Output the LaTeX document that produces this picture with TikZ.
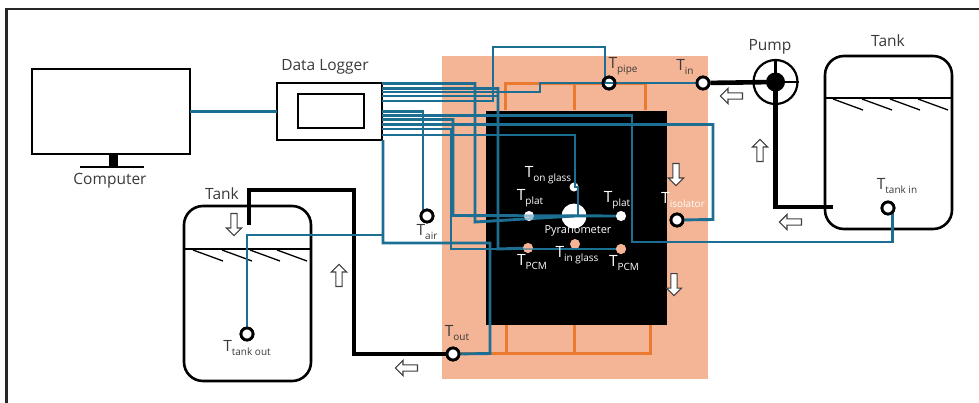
\documentclass[tikz,border=0pt]{standalone}
\usepackage{fontspec}
\setmainfont{Open Sans}
\usetikzlibrary{shapes.arrows}
\definecolor{salmon}{HTML}{F4B496}
\definecolor{orangeline}{HTML}{E97A30}
\definecolor{wire}{HTML}{1C6E92}
\definecolor{txt}{HTML}{3A3A3A}
\newcommand{\Tsub}[1]{{\fontsize{15.5}{16}\selectfont T}\raisebox{-.5ex}{\fontsize{10}{11}\selectfont #1}}
\tikzset{
  box/.style={draw=black,line width=2.6pt,fill=white,inner sep=0pt,outer sep=0pt},
  wireline/.style={draw=wire,line width=2.9pt,line join=miter},
  pipe/.style={draw=black,line width=4.6pt,line join=miter},
  plumb/.style={draw=orangeline,line width=3pt},
  sensor/.style={circle,draw=black,fill=white,line width=2.8pt,minimum size=12pt,inner sep=0pt},
  dotw/.style={circle,fill=white,minimum size=10pt,inner sep=0pt},
  doto/.style={circle,fill=salmon,minimum size=10pt,inner sep=0pt},
  lab/.style={text=txt,font=\fontsize{15.5}{17}\selectfont,inner sep=0pt},
  labw/.style={text=white,font=\fontsize{14}{16}\selectfont,inner sep=0pt},
  flow/.style={single arrow,draw=black!75,fill=white,line width=1.1pt,minimum width=15pt,minimum height=22pt,single arrow head extend=2.5pt,single arrow tip angle=90,inner sep=1.2pt},
  tankline/.style={draw=black,line width=2.6pt,rounded corners=19pt}
}
\begin{document}
\begin{tikzpicture}[x=1pt,y=-1pt]
\useasboundingbox (0,0) rectangle (979,402);
\clip (0,0) rectangle (979,402);
% frame
\draw[black!85,line width=2.4pt] (6.5,403) -- (6.5,9) -- (980,9);
% collector
\fill[salmon] (442,56) rectangle (708,379);
\draw[plumb] (505,110) -- (505,83) -- (645,83) -- (645,110);
\draw[plumb] (574,83) -- (574,110);
\draw[plumb] (506,325) -- (506,353) -- (650,353) -- (650,325);
\draw[plumb] (574,325) -- (574,353);
\draw[plumb] (453,353) -- (506,353);
\node[fill=black,minimum width=181pt,minimum height=214.5pt,inner sep=0pt] (panel) at (576.5,218) {};
% computer
\node[box,minimum width=158pt,minimum height=85pt] (screen) at (111,111.5) {};
\fill[black] (109,155) rectangle (117.5,166);
\draw[black,line width=2.6pt] (80,167) -- (144,167);
\node[lab] (computer) at (110,180.5) {Computer};
% logger
\node[box,minimum width=105pt,minimum height=57pt] (logger) at (329.5,111.5) {};
\node[box,minimum width=66pt,minimum height=34pt] (loggerscreen) at (331,111) {};
\node[lab] (loggerlabel) at (325,67) {Data Logger};
% tanks
\draw[tankline] (825,229) rectangle (952,56);
\node[lab] (tankrlabel) at (888,41) {Tank};
\draw[black,line width=2.2pt] (825,98) -- (952,98);
\foreach \a in {833,862,890,918} \draw[black,line width=1.3pt] (\a,99) -- ++(30,11);
\draw[tankline] (184,381) rectangle (311,206);
\node[lab] (tankllabel) at (222,194) {Tank};
\draw[black,line width=2.2pt] (184,249) -- (311,249);
\foreach \a in {193,222,250,277} \draw[black,line width=1.3pt] (\a,250) -- ++(30,11);
% sensors
\node[sensor] (tin) at (703,83) {};
\node[sensor] (tpipe) at (609,83) {};
\node[sensor] (tout) at (453,354) {};
\node[sensor] (tair) at (427,216) {};
\node[sensor] (tiso) at (677,220) {};
\node[sensor] (ttankin) at (888,208) {};
\node[sensor] (ttankout) at (247,334) {};
\node[dotw] (tplatl) at (529,216) {};
\node[dotw] (tplatr) at (621,216) {};
\node[dotw,minimum size=9pt] (tonglass) at (574,187) {};
\node[circle,fill=white,minimum size=25pt,inner sep=0pt] (pyr) at (574,216) {};
\node[doto] (tpcml) at (528,248) {};
\node[doto] (tpcmr) at (621,249) {};
\node[doto] (tinglass) at (575,244) {};
% pump
\node[circle,draw=black,fill=white,line width=2.2pt,minimum size=44pt,inner sep=0pt] (pump) at (775.5,82) {};
% pipes
\draw[pipe] (tin) -- (pump.center);
\coordinate (inright) at (833,207);
\draw[pipe] (pump.center) -- (775.5,207) -- (inright);
\coordinate (outtop) at (249,225);
\draw[pipe] (outtop) -- (249,190) -- (354,190) -- (354,354) -- (tout);
\node[circle,fill=black,minimum size=19pt,inner sep=0pt] (pumpcore) at (775.5,82) {};
\draw[black,line width=2.2pt] (pump.north) -- (pump.south) (pump.west) -- (pump.east);
% wires
\coordinate (L1) at (382,83.5);
\coordinate (L2) at (382,88.5);
\coordinate (L3) at (382,92);
\coordinate (L4) at (382,96);
\coordinate (L5) at (382,101);
\coordinate (L6) at (382,111.5);
\coordinate (L7) at (382,115.5);
\coordinate (L8) at (382,119.5);
\coordinate (L9) at (382,124.5);
\coordinate (L10) at (382,129);
\coordinate (L11) at (382,135);
\coordinate (Lb) at (383,140);
\draw[wireline] (screen.east) -- (logger.west);
\draw[wireline] (L1) -- (475,83.5) -- (475,222) -- (pyr.center);
\draw[wireline] (L2) -- (498,88.5) -- (498,249) -- (tpcml);
\draw[wireline] (L3) -- (540,92) -- (540,83) -- (tin);
\draw[wireline] (L4) -- (498,96);
\draw[wireline] (L5) -- (493,101) -- (493,47) -- (605,47) -- (605,83) -- (tpipe);
\draw[wireline] (L6) -- (423,111.5) -- (423,216) -- (tair);
\draw[wireline] (L7) -- (632,115.5) -- (632,242) -- (892.5,242) -- (892.5,208) -- (ttankin);
\draw[wireline] (L8) -- (453,119.5) -- (453,215.5) -- (tplatr);
\draw[wireline] (L9) -- (713,124.5) -- (713,219.5) -- (tiso);
\draw[wireline] (L10) -- (451,129) -- (451,249) -- (tpcmr);
\draw[wireline] (L11) -- (575,135) -- (575,187) -- (tonglass);
\draw[wireline] (tonglass) -- (578,187) -- (578,216) -- (pyr.center);
\draw[wireline] (Lb) -- (383,243) -- (490,243) -- (490,353.5) -- (tout);
\draw[wireline] (383,235) -- (247,235) -- (ttankout);
% redraw sensor tops
\foreach \n/\x/\y in {tin/703/83,tout/453/354,tair/427/216,tiso/677/220,ttankin/888/208,ttankout/247/334}
  \node[sensor] at (\x,\y) {};
\node[circle,draw=black,line width=2.8pt,minimum size=12pt,inner sep=0pt] at (609,83) {};
\foreach \x/\y in {529/216,621/216} \node[dotw,opacity=.55] at (\x,\y) {};
\node[doto,opacity=.5] at (528,248) {};
\node[doto] at (621,249) {};
% flow arrows
\node[flow,rotate=180] (a1) at (733,96) {};
\node[flow,rotate=90] (a2) at (760,152) {};
\node[flow,rotate=180] (a3) at (792,222) {};
\node[flow,rotate=-90] (a4) at (676,173) {};
\node[flow,rotate=-90] (a5) at (674,283) {};
\node[flow,rotate=180] (a6) at (408,368) {};
\node[flow,rotate=-90] (a7) at (234,223) {};
\node[flow,rotate=90] (a8) at (339,277) {};
% labels
\node[lab] (pumplabel) at (770,47) {Pump};
\node[lab] (ltpipe) at (623,66) {\Tsub{pipe}};
\node[lab] (ltin) at (685,67) {\Tsub{in}};
\node[lab] (ltout) at (457,333) {\Tsub{out}};
\node[lab] (ltair) at (427,232) {\Tsub{air}};
\node[lab] (lttankin) at (897,186) {\Tsub{tank in}};
\node[lab] (lttankout) at (247,348) {\Tsub{tank out}};
\node[labw] (ltong) at (548,175) {\Tsub{on glass}};
\node[labw] (ltpl) at (530,198) {\Tsub{plat}};
\node[labw] (ltpr) at (617,200) {\Tsub{plat}};
\node[labw] (ltiso) at (683,200) {\Tsub{isolator}};
\node[labw] (ltpcml) at (532,262) {\Tsub{PCM}};
\node[labw] (ltpcmr) at (624,263) {\Tsub{PCM}};
\node[labw] (ltinglass) at (577,255) {\Tsub{in glass}};
\node[labw,font=\fontsize{11}{12}\selectfont] (lpyr) at (578,231) {Pyranometer};
\end{tikzpicture}
\end{document}
